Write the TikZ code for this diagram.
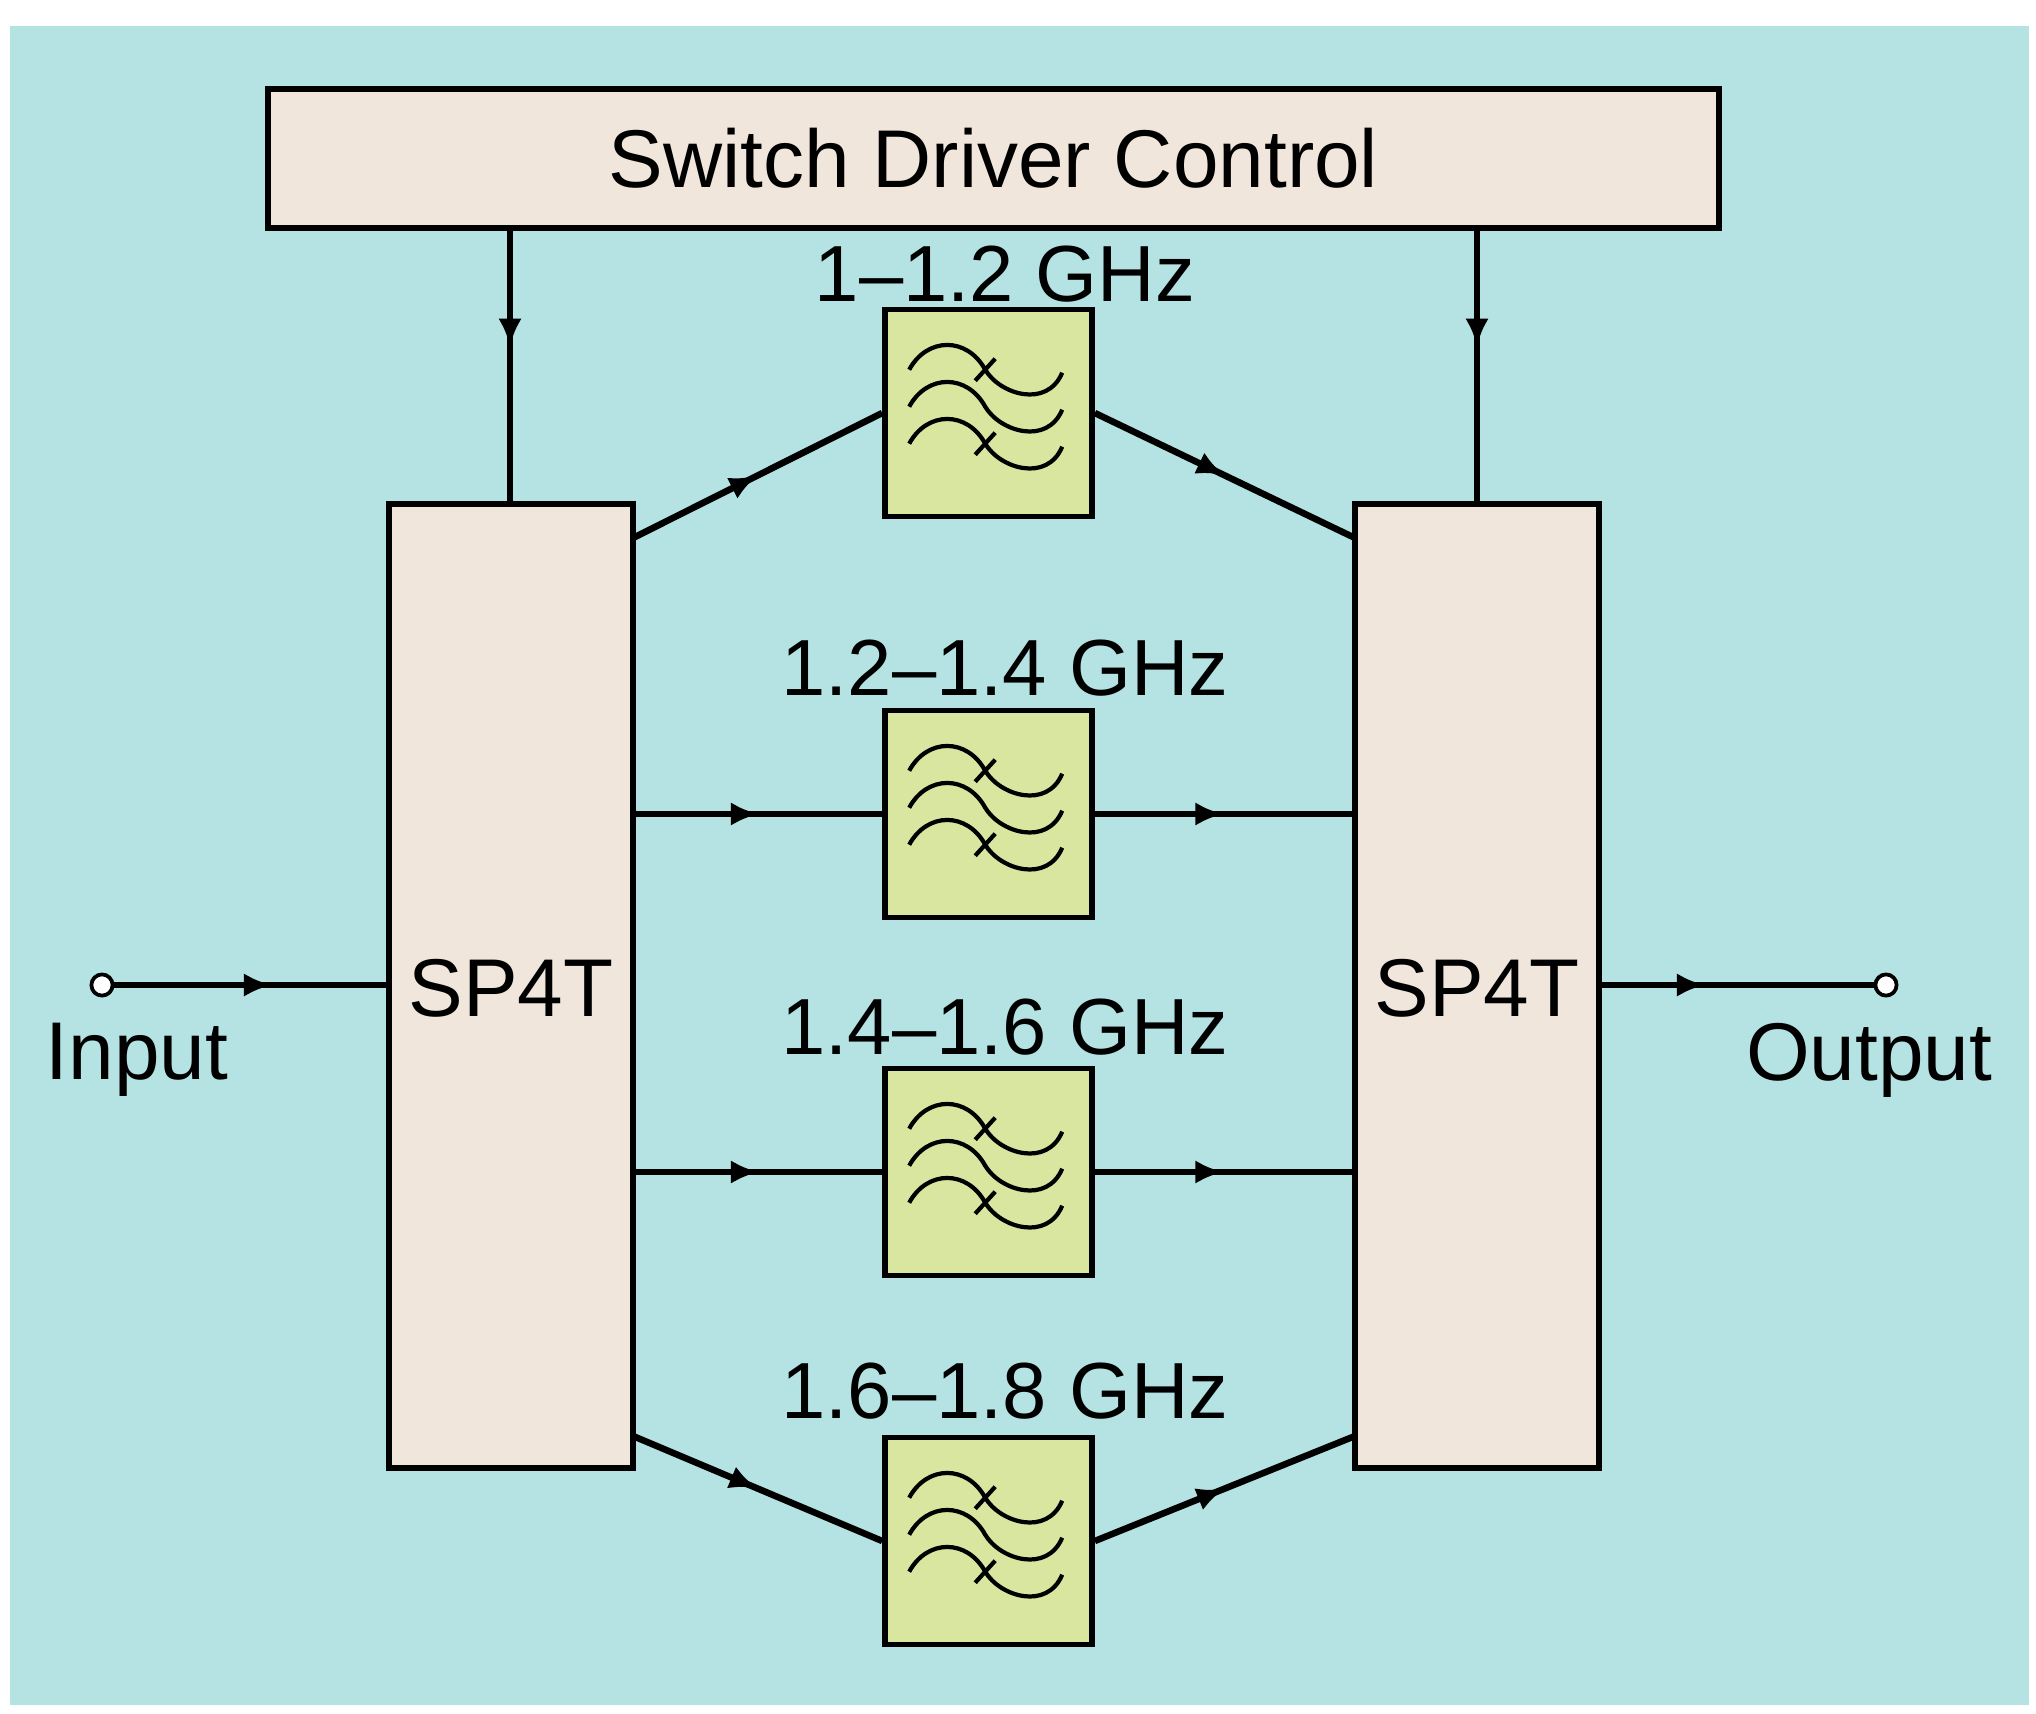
\documentclass[tikz,border=0pt]{standalone}
\usepackage{fontspec}
\setmainfont{Liberation Sans}
\usetikzlibrary{arrows.meta,decorations.markings}
\definecolor{bgc}{HTML}{B5E2E2}
\definecolor{boxc}{HTML}{F0E6DC}
\definecolor{filc}{HTML}{D8E6A0}
\begin{document}
\begin{tikzpicture}[x=0.0075cm,y=-0.0075cm,
  blk/.style={draw=black,line width=1.2pt,fill=boxc},
  filt/.style={draw=black,line width=1.2pt,fill=filc,minimum size=207*0.0075cm,inner sep=0pt},
  wire/.style={line width=1.4pt},
  marr/.style={wire,postaction={decorate},decoration={markings,mark=at position #1 with {\arrow{Latex[length=6pt,width=5pt]}}}},
  big/.style={font=\fontsize{17.5}{21}\selectfont},
  freq/.style={font=\fontsize{17}{20}\selectfont}]
\useasboundingbox (0,0) rectangle (2036,1714);
\fill[white] (0,0) rectangle (2036,1714);
\fill[bgc] (10,26) rectangle (2029,1705);
\node[blk,minimum width=1451*0.0075cm,minimum height=139*0.0075cm,big] (sdc) at (993.5,158.5) {Switch Driver Control};
\node[blk,minimum width=244*0.0075cm,minimum height=964*0.0075cm,inner sep=0pt] (sl) at (511,986) {};
\node[blk,minimum width=244*0.0075cm,minimum height=964*0.0075cm,inner sep=0pt] (sr) at (1477,986) {};
\node[big] (sll) at (511,988) {SP4T};
\node[big] (srl) at (1477,988) {SP4T};
\foreach \n/\y in {f1/413,f2/814,f3/1172,f4/1541}{
  \node[filt] (\n) at (988.5,\y) {};
  \begin{scope}[shift={(\n.north west)},line width=0.9pt]
    \foreach \dy/\cr in {0/1,37/0,74/1}{
      \draw (27,63+\dy) .. controls (45,30+\dy) and (85,30+\dy) .. (103,63+\dy)
            .. controls (118,88+\dy) and (165,102+\dy) .. (180,66+\dy);
      \ifnum\cr=1 \draw (93,74+\dy) -- (113,52+\dy); \fi
    }
  \end{scope}
}
\node[freq] (l1) at (1005,274) {1–1.2 GHz};
\node[freq] (l2) at (1005,668) {1.2–1.4 GHz};
\node[freq] (l3) at (1005,1027) {1.4–1.6 GHz};
\node[freq] (l4) at (1005,1391) {1.6–1.8 GHz};
% control
\coordinate (c1) at (510,228); \coordinate (c1b) at (510,504);
\coordinate (c2) at (1477,228); \coordinate (c2b) at (1477,504);
\draw[marr=0.43] (c1) -- (c1b);
\draw[marr=0.43] (c2) -- (c2b);
% input/output
\node[circle,draw,line width=0.8pt,fill=white,inner sep=1.6pt] (in) at (102,985) {};
\node[circle,draw,line width=0.8pt,fill=white,inner sep=1.6pt] (out) at (1886,985) {};
\draw[marr=0.58] (in) -- (sl.west |- in);
\draw[marr=0.38] (sr.east |- out) -- (out);
\node[big] at (137,1060) {Input};
\node[big] at (1869,1060) {Output};
% branches
\coordinate (a1) at (633,538); \coordinate (b1) at (1355,538);
\coordinate (a4) at (633,1436); \coordinate (b4) at (1355,1436);
\draw[marr=0.5] (a1) -- (f1.west);
\draw[marr=0.5] (f1.east) -- (b1);
\draw[marr=0.5] (sl.east |- f2) -- (f2.west);
\draw[marr=0.5] (f2.east) -- (sr.west |- f2);
\draw[marr=0.5] (sl.east |- f3) -- (f3.west);
\draw[marr=0.5] (f3.east) -- (sr.west |- f3);
\draw[marr=0.5] (a4) -- (f4.west);
\draw[marr=0.5] (f4.east) -- (b4);
\end{tikzpicture}
\end{document}
